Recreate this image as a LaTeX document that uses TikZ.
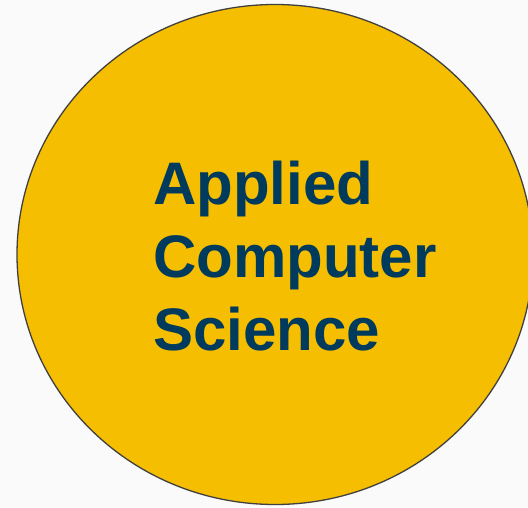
\documentclass[tikz,border=0pt]{standalone}
\usepackage{fontspec}
\setmainfont{Liberation Sans}
\definecolor{bgc}{HTML}{FAFAFA}
\definecolor{gold}{HTML}{F5BE00}
\definecolor{navy}{HTML}{003A5C}
\definecolor{rim}{HTML}{404040}
\begin{document}
\begin{tikzpicture}[x=1pt,y=1pt,
  disc/.style={fill=gold,draw=rim,line width=1.3pt},
  label/.style={text=navy,font=\fontsize{60}{73}\selectfont\bfseries,align=left,inner sep=0pt}]
\useasboundingbox (0,0) rectangle (528,507);
\clip (0,0) rectangle (528,507);
\fill[bgc] (0,0) rectangle (528,507);
\draw[disc] (275,252.5) ellipse [x radius=258, y radius=250];
\node[label,anchor=base west] (t) at (153,157) {Applied\\Computer\\Science};
\end{tikzpicture}
\end{document}
